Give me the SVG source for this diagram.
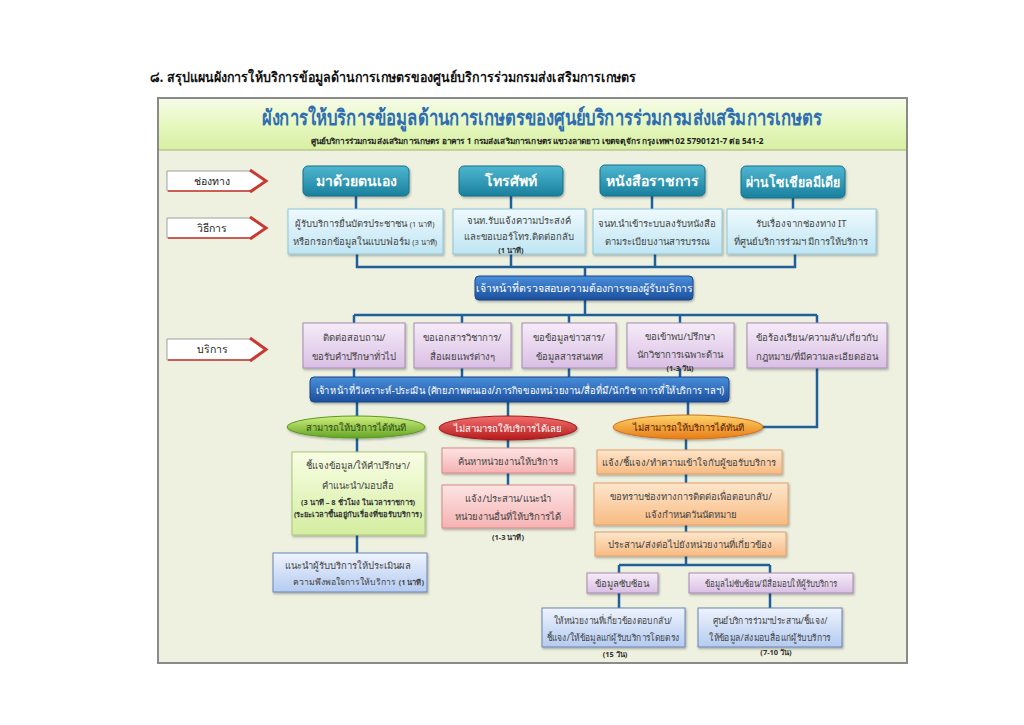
<svg xmlns="http://www.w3.org/2000/svg" width="1024" height="725" viewBox="0 0 1024 725">
<defs>
<linearGradient id="gHead" x1="0" y1="0" x2="0" y2="1"><stop offset="0" stop-color="#f6fbe8"/><stop offset="0.5" stop-color="#e6f8bf"/><stop offset="1" stop-color="#d6efa2"/></linearGradient>
<linearGradient id="gTeal" x1="0" y1="0" x2="0" y2="1"><stop offset="0" stop-color="#4fb6d0"/><stop offset="1" stop-color="#19809d"/></linearGradient>
<linearGradient id="gCyan" x1="0" y1="0" x2="0" y2="1"><stop offset="0" stop-color="#eef9fd"/><stop offset="1" stop-color="#bfe5f3"/></linearGradient>
<linearGradient id="gNavy" x1="0" y1="0" x2="0" y2="1"><stop offset="0" stop-color="#4a8fdc"/><stop offset="1" stop-color="#1c4f9c"/></linearGradient>
<linearGradient id="gPurple" x1="0" y1="0" x2="0" y2="1"><stop offset="0" stop-color="#f6ecf8"/><stop offset="1" stop-color="#d9bfe4"/></linearGradient>
<linearGradient id="gGreenE" x1="0" y1="0" x2="0" y2="1"><stop offset="0" stop-color="#d2f080"/><stop offset="1" stop-color="#62a324"/></linearGradient>
<linearGradient id="gRedE" x1="0" y1="0" x2="0" y2="1"><stop offset="0" stop-color="#f27070"/><stop offset="1" stop-color="#b41a1a"/></linearGradient>
<linearGradient id="gOrangeE" x1="0" y1="0" x2="0" y2="1"><stop offset="0" stop-color="#fdd36a"/><stop offset="1" stop-color="#e77c16"/></linearGradient>
<linearGradient id="gGreenB" x1="0" y1="0" x2="0" y2="1"><stop offset="0" stop-color="#f8fde4"/><stop offset="1" stop-color="#d4eea0"/></linearGradient>
<linearGradient id="gPink" x1="0" y1="0" x2="0" y2="1"><stop offset="0" stop-color="#fde4e4"/><stop offset="1" stop-color="#f5b2b2"/></linearGradient>
<linearGradient id="gOrangeB" x1="0" y1="0" x2="0" y2="1"><stop offset="0" stop-color="#fde6cc"/><stop offset="1" stop-color="#f8bb82"/></linearGradient>
<linearGradient id="gBlueB" x1="0" y1="0" x2="0" y2="1"><stop offset="0" stop-color="#eef3fd"/><stop offset="1" stop-color="#b4cbf1"/></linearGradient>
<filter id="sh" x="-10%" y="-20%" width="120%" height="150%"><feDropShadow dx="1" dy="1.5" stdDeviation="1" flood-color="#000" flood-opacity="0.3"/></filter>
</defs>
<style>
text{font-family:"Noto Sans","DejaVu Sans",sans-serif;}
.t{text-anchor:middle;font-size:9.5px;fill:#444;}
.w{text-anchor:middle;fill:#ffffff;}
.ch{font-size:14px;font-weight:bold;}
.bar{font-size:10.5px;}
.sm{text-anchor:middle;font-size:7.5px;font-weight:bold;fill:#333;}
.lbl{text-anchor:middle;font-size:10.5px;fill:#222;}
.el{text-anchor:middle;font-size:9.5px;}
.conn{fill:none;stroke:#1f5f9a;stroke-width:2.5;}
.teal{fill:url(#gTeal);stroke:#17708a;stroke-width:1;}
.cyan{fill:url(#gCyan);stroke:#8ec6da;stroke-width:1;}
.navy{fill:url(#gNavy);stroke:#1a4888;stroke-width:1;}
.pur{fill:url(#gPurple);stroke:#a68ab6;stroke-width:1;}
.grnb{fill:url(#gGreenB);stroke:#a9c874;stroke-width:1;}
.pink{fill:url(#gPink);stroke:#d88888;stroke-width:1;}
.orb{fill:url(#gOrangeB);stroke:#e0a066;stroke-width:1;}
.blb{fill:url(#gBlueB);stroke:#6a86b6;stroke-width:1;}
</style>
<rect x="0" y="0" width="1024" height="725" fill="#ffffff"/>
<text x="150" y="82" font-size="14" font-weight="bold" fill="#111" textLength="486" lengthAdjust="spacingAndGlyphs">๘. สรุปแผนผังการให้บริการข้อมูลด้านการเกษตรของศูนย์บริการร่วมกรมส่งเสริมการเกษตร</text>
<g id="frame">
<rect x="158" y="98" width="749" height="565" fill="#eef1e0" stroke="#8a8a8a" stroke-width="2"/>
<rect x="159" y="99" width="747" height="51" fill="url(#gHead)"/>
<line x1="159" y1="150" x2="906" y2="150" stroke="#b4c98e" stroke-width="1.5"/>
<text x="542" y="125" text-anchor="middle" font-size="21" font-weight="bold" fill="#2f6db3" textLength="560" lengthAdjust="spacingAndGlyphs">ผังการให้บริการข้อมูลด้านการเกษตรของศูนย์บริการร่วมกรมส่งเสริมการเกษตร</text>
<text x="537" y="144" text-anchor="middle" font-size="8" font-weight="bold" fill="#222" textLength="453" lengthAdjust="spacingAndGlyphs">ศูนย์บริการร่วมกรมส่งเสริมการเกษตร อาคาร 1 กรมส่งเสริมการเกษตร แขวงลาดยาว เขตจตุจักร กรุงเทพฯ 02 5790121-7 ต่อ 541-2</text>
</g>
<g id="labels">
<g id="lbl-channel"><polygon points="167,171 252,171 266,181 252,191 167,191" fill="#fff" stroke="#a0a0a0"/><polyline points="250,170 266,181 250,192" fill="none" stroke="#c83a30" stroke-width="3"/><line x1="168" y1="191" x2="250" y2="191" stroke="#c83a30" stroke-width="1.5"/><text class="lbl" x="212" y="185">ช่องทาง</text></g>
<g id="lbl-method"><polygon points="167,218 252,218 266,228 252,238 167,238" fill="#fff" stroke="#a0a0a0"/><polyline points="250,217 266,228 250,239" fill="none" stroke="#c83a30" stroke-width="3"/><line x1="168" y1="238" x2="250" y2="238" stroke="#c83a30" stroke-width="1.5"/><text class="lbl" x="212" y="232">วิธีการ</text></g>
<g id="lbl-service"><polygon points="167,339 252,339 266,349.5 252,360 167,360" fill="#fff" stroke="#a0a0a0"/><polyline points="250,338 266,349.5 250,361" fill="none" stroke="#c83a30" stroke-width="3"/><line x1="168" y1="360" x2="250" y2="360" stroke="#c83a30" stroke-width="1.5"/><text class="lbl" x="212" y="353">บริการ</text></g>
</g>
<g id="connectors">
<path class="conn" d="M356,196V209 M511,196V209 M652,196V209 M793,198V209"/>
<path class="conn" d="M357,254V267H795V254 M511,254V267 M655,254V267 M585,267V276"/>
<path class="conn" d="M585,300V315 M354,315H817 M354,315V323 M462,315V323 M569,315V323 M680,315V323 M817,315V323"/>
<path class="conn" d="M354,368V377 M462,368V377 M569,368V377 M680,368V377"/>
<path class="conn" d="M357,402V417 M508,402V417 M688,402V416 M817,368V427H762"/>
<path class="conn" d="M357,438V452 M357,535V553"/>
<path class="conn" d="M508,440V448 M508,473V485"/>
<path class="conn" d="M686,439V450 M686,474V483 M686,525V532 M686,556V565 M619,565H770 M619,565V573 M770,565V573 M619,593V608 M770,593V608"/>
</g>
<g id="channels">
<g id="ch1"><rect class="teal" x="303" y="166" width="106" height="30" rx="5" filter="url(#sh)"/><text class="w ch" x="356" y="186">มาด้วยตนเอง</text></g>
<g id="ch2"><rect class="teal" x="459" y="166" width="104" height="30" rx="5" filter="url(#sh)"/><text class="w ch" x="511" y="186">โทรศัพท์</text></g>
<g id="ch3"><rect class="teal" x="600" y="165" width="105" height="31" rx="5" filter="url(#sh)"/><text class="w ch" x="652" y="186">หนังสือราชการ</text></g>
<g id="ch4"><rect class="teal" x="741" y="166" width="104" height="32" rx="5" filter="url(#sh)"/><text class="w ch" x="793" y="187" textLength="94" lengthAdjust="spacingAndGlyphs">ผ่านโซเชียลมีเดีย</text></g>
</g>
<g id="methods">
<g id="m1"><rect class="cyan" x="288" y="209" width="155" height="45" filter="url(#sh)"/><text class="t" x="365" y="227">ผู้รับบริการยื่นบัตรประชาชน <tspan font-size="7.5">(1 นาที)</tspan></text><text class="t" x="365" y="245">หรือกรอกข้อมูลในแบบฟอร์ม <tspan font-size="7.5">(3 นาที)</tspan></text></g>
<g id="m2"><rect class="cyan" x="453" y="209" width="132" height="45" filter="url(#sh)"/><text class="t" x="519" y="224">จนท.รับแจ้งความประสงค์</text><text class="t" x="519" y="240">และขอเบอร์โทร.ติดต่อกลับ</text><text class="sm" x="511" y="253">(1 นาที)</text></g>
<g id="m3"><rect class="cyan" x="593" y="209" width="129" height="45" filter="url(#sh)"/><text class="t" x="657" y="227">จนท.นำเข้าระบบลงรับหนังสือ</text><text class="t" x="657" y="245">ตามระเบียบงานสารบรรณ</text></g>
<g id="m4"><rect class="cyan" x="727" y="209" width="149" height="45" filter="url(#sh)"/><text class="t" x="801" y="227">รับเรื่องจากช่องทาง IT</text><text class="t" x="801" y="245">ที่ศูนย์บริการร่วมฯ มีการให้บริการ</text></g>
</g>
<g id="check"><rect class="navy" x="475" y="276" width="218" height="24" rx="4" filter="url(#sh)"/><text class="w bar" x="584" y="292">เจ้าหน้าที่ตรวจสอบความต้องการของผู้รับบริการ</text></g>
<g id="services">
<g id="s1"><rect class="pur" x="303" y="323" width="102" height="45" filter="url(#sh)"/><text class="t" x="354" y="341">ติดต่อสอบถาม/</text><text class="t" x="354" y="360">ขอรับคำปรึกษาทั่วไป</text></g>
<g id="s2"><rect class="pur" x="414" y="323" width="97" height="45" filter="url(#sh)"/><text class="t" x="462" y="341">ขอเอกสารวิชาการ/</text><text class="t" x="462" y="360">สื่อเผยแพร่ต่างๆ</text></g>
<g id="s3"><rect class="pur" x="522" y="323" width="94" height="45" filter="url(#sh)"/><text class="t" x="569" y="341">ขอข้อมูลข่าวสาร/</text><text class="t" x="569" y="360">ข้อมูลสารสนเทศ</text></g>
<g id="s4"><rect class="pur" x="627" y="323" width="107" height="45" filter="url(#sh)"/><text class="t" x="680" y="340">ขอเข้าพบ/ปรึกษา</text><text class="t" x="680" y="358">นักวิชาการเฉพาะด้าน</text><text class="sm" x="680" y="371">(1-3 วัน)</text></g>
<g id="s5"><rect class="pur" x="747" y="323" width="140" height="45" filter="url(#sh)"/><text class="t" x="817" y="341">ข้อร้องเรียน/ความลับ/เกี่ยวกับ</text><text class="t" x="817" y="360">กฎหมาย/ที่มีความละเอียดอ่อน</text></g>
</g>
<g id="analysis"><rect class="navy" x="310" y="377" width="419" height="25" rx="4" filter="url(#sh)"/><text class="w" x="520" y="394" font-size="10" textLength="408" lengthAdjust="spacingAndGlyphs">เจ้าหน้าที่วิเคราะห์-ประเมิน (ศักยภาพตนเอง/ภารกิจของหน่วยงาน/สื่อที่มี/นักวิชาการที่ให้บริการ  ฯลฯ)</text></g>
<g id="outcomes">
<g id="e-green"><ellipse cx="356" cy="427" rx="69" ry="11" fill="url(#gGreenE)" stroke="#5a9a22" filter="url(#sh)"/><text class="el" x="356" y="431" fill="#2c4a10">สามารถให้บริการได้ทันที</text></g>
<g id="e-red"><ellipse cx="508" cy="428" rx="69" ry="12" fill="url(#gRedE)" stroke="#a01818" filter="url(#sh)"/><text class="el" x="508" y="432" fill="#ffffff">ไม่สามารถให้บริการได้เลย</text></g>
<g id="e-orange"><ellipse cx="688" cy="427" rx="75" ry="12" fill="url(#gOrangeE)" stroke="#d0701a" filter="url(#sh)"/><text class="el" x="688" y="431" fill="#5a1a00">ไม่สามารถให้บริการได้ทันที</text></g>
</g>
<g id="green-col">
<g id="g1"><rect class="grnb" x="292" y="452" width="133" height="83" filter="url(#sh)"/><text class="t" x="358" y="469">ชี้แจงข้อมูล/ให้คำปรึกษา/</text><text class="t" x="358" y="489">คำแนะนำ/มอบสื่อ</text><text class="sm" x="358" y="505">(3 นาที – 8 ชั่วโมง ในเวลาราชการ)</text><text class="sm" x="358" y="517">(ระยะเวลาขึ้นอยู่กับเรื่องที่ขอรับบริการ)</text></g>
<g id="g2"><rect class="blb" x="273" y="553" width="154" height="39" filter="url(#sh)"/><text class="t" x="348" y="569">แนะนำผู้รับบริการให้ประเมินผล</text><text x="424" y="585" text-anchor="end" font-size="8.7" fill="#444">ความพึงพอใจการให้บริการ <tspan font-size="7.5" font-weight="bold">(1 นาที)</tspan></text></g>
</g>
<g id="red-col">
<g id="r1"><rect class="pink" x="442" y="448" width="132" height="25" filter="url(#sh)"/><text class="t" x="508" y="465">ค้นหาหน่วยงานให้บริการ</text></g>
<g id="r2"><rect class="pink" x="442" y="485" width="132" height="43" filter="url(#sh)"/><text class="t" x="508" y="502">แจ้ง/ประสาน/แนะนำ</text><text class="t" x="508" y="520">หน่วยงานอื่นที่ให้บริการได้</text><text class="sm" x="508" y="540">(1-3 นาที)</text></g>
</g>
<g id="orange-col">
<g id="o1"><rect class="orb" x="597" y="450" width="185" height="24" filter="url(#sh)"/><text class="t" x="689" y="466">แจ้ง/ชี้แจง/ทำความเข้าใจกับผู้ขอรับบริการ</text></g>
<g id="o2"><rect class="orb" x="594" y="483" width="194" height="42" filter="url(#sh)"/><text class="t" x="691" y="500">ขอทราบช่องทางการติดต่อเพื่อตอบกลับ/</text><text class="t" x="691" y="518">แจ้งกำหนดวันนัดหมาย</text></g>
<g id="o3"><rect class="orb" x="595" y="532" width="191" height="24" filter="url(#sh)"/><text class="t" x="690" y="548">ประสาน/ส่งต่อไปยังหน่วยงานที่เกี่ยวข้อง</text></g>
<g id="o4"><rect class="pur" x="587" y="573" width="71" height="20" filter="url(#sh)"/><text class="t" x="622" y="587">ข้อมูลซับซ้อน</text></g>
<g id="o5"><rect class="pur" x="689" y="573" width="164" height="20" filter="url(#sh)"/><text class="t" x="771" y="587" textLength="132" lengthAdjust="spacingAndGlyphs">ข้อมูลไม่ซับซ้อน/มีสื่อมอบให้ผู้รับบริการ</text></g>
<g id="o6"><rect class="blb" x="542" y="608" width="143" height="39" filter="url(#sh)"/><text class="t" x="613" y="624" textLength="118" lengthAdjust="spacingAndGlyphs">ให้หน่วยงานที่เกี่ยวข้องตอบกลับ/</text><text class="t" x="613" y="641" textLength="133" lengthAdjust="spacingAndGlyphs">ชี้แจง/ให้ข้อมูลแก่ผู้รับบริการโดยตรง</text><text class="sm" x="615" y="657">(15 วัน)</text></g>
<g id="o7"><rect class="blb" x="698" y="608" width="144" height="39" filter="url(#sh)"/><text class="t" x="770" y="624" textLength="115" lengthAdjust="spacingAndGlyphs">ศูนย์บริการร่วมฯประสาน/ชี้แจง/</text><text class="t" x="770" y="641" textLength="122" lengthAdjust="spacingAndGlyphs">ให้ข้อมูล/ส่งมอบสื่อแก่ผู้รับบริการ</text><text class="sm" x="776" y="655">(7-10 วัน)</text></g>
</g>
</svg>
